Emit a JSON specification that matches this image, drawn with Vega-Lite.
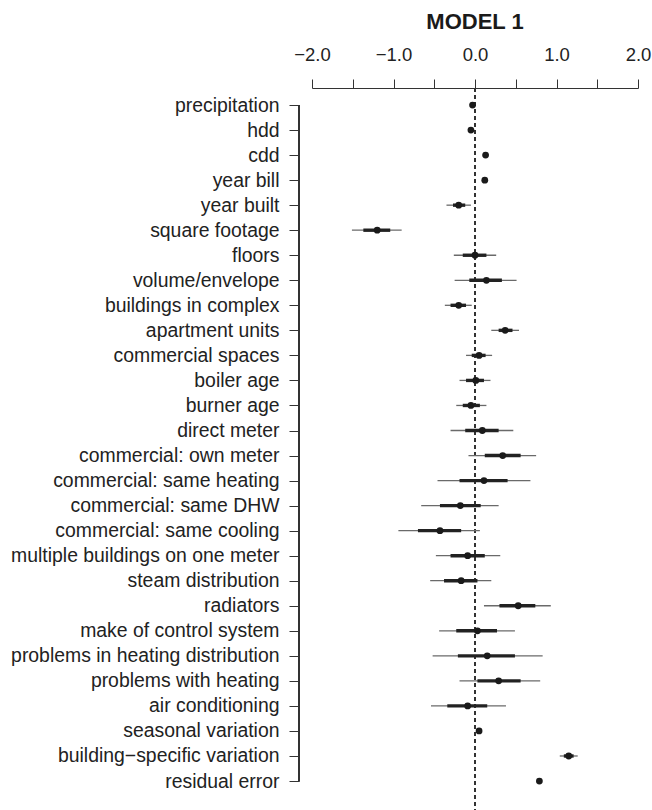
{
  "$schema": "https://vega.github.io/schema/vega-lite/v6.json",
  "autosize": "none",
  "padding": {"top": 88, "left": 312, "right": 14, "bottom": 0},
  "width": 326,
  "height": 722,
  "background": "white",
  "title": {"text": "MODEL 1", "font": "Liberation Sans", "fontSize": 22, "fontWeight": "bold", "color": "#1a1a1a", "anchor": "middle", "frame": "group", "offset": 11},
  "config": {"view": {"stroke": null}, "axis": {"grid": false}},
  "data": {"values": [
    {"term": "precipitation", "est": -0.03, "lo1": null, "hi1": null, "lo2": null, "hi2": null},
    {"term": "hdd", "est": -0.05, "lo1": null, "hi1": null, "lo2": null, "hi2": null},
    {"term": "cdd", "est": 0.13, "lo1": null, "hi1": null, "lo2": null, "hi2": null},
    {"term": "year bill", "est": 0.12, "lo1": null, "hi1": null, "lo2": null, "hi2": null},
    {"term": "year built", "est": -0.2, "lo1": -0.35, "hi1": -0.05, "lo2": -0.27, "hi2": -0.12},
    {"term": "square footage", "est": -1.2, "lo1": -1.51, "hi1": -0.9, "lo2": -1.37, "hi2": -1.04},
    {"term": "floors", "est": 0.0, "lo1": -0.26, "hi1": 0.26, "lo2": -0.15, "hi2": 0.14},
    {"term": "volume/envelope", "est": 0.14, "lo1": -0.25, "hi1": 0.51, "lo2": -0.07, "hi2": 0.33},
    {"term": "buildings in complex", "est": -0.2, "lo1": -0.37, "hi1": -0.04, "lo2": -0.3, "hi2": -0.11},
    {"term": "apartment units", "est": 0.37, "lo1": 0.2, "hi1": 0.54, "lo2": 0.29, "hi2": 0.46},
    {"term": "commercial spaces", "est": 0.05, "lo1": -0.11, "hi1": 0.21, "lo2": -0.04, "hi2": 0.13},
    {"term": "boiler age", "est": 0.01, "lo1": -0.19, "hi1": 0.19, "lo2": -0.11, "hi2": 0.11},
    {"term": "burner age", "est": -0.05, "lo1": -0.23, "hi1": 0.14, "lo2": -0.15, "hi2": 0.06},
    {"term": "direct meter", "est": 0.09, "lo1": -0.3, "hi1": 0.47, "lo2": -0.12, "hi2": 0.29},
    {"term": "commercial: own meter", "est": 0.34, "lo1": -0.08, "hi1": 0.75, "lo2": 0.12, "hi2": 0.56},
    {"term": "commercial: same heating", "est": 0.11, "lo1": -0.46, "hi1": 0.68, "lo2": -0.19, "hi2": 0.4},
    {"term": "commercial: same DHW", "est": -0.18, "lo1": -0.66, "hi1": 0.29, "lo2": -0.43, "hi2": 0.07},
    {"term": "commercial: same cooling", "est": -0.43, "lo1": -0.94, "hi1": 0.06, "lo2": -0.7, "hi2": -0.17},
    {"term": "multiple buildings on one meter", "est": -0.09, "lo1": -0.48, "hi1": 0.31, "lo2": -0.3, "hi2": 0.12},
    {"term": "steam distribution", "est": -0.17, "lo1": -0.55, "hi1": 0.2, "lo2": -0.38, "hi2": 0.03},
    {"term": "radiators", "est": 0.53, "lo1": 0.11, "hi1": 0.93, "lo2": 0.3, "hi2": 0.74},
    {"term": "make of control system", "est": 0.03, "lo1": -0.44, "hi1": 0.49, "lo2": -0.23, "hi2": 0.27},
    {"term": "problems in heating distribution", "est": 0.15, "lo1": -0.52, "hi1": 0.83, "lo2": -0.21, "hi2": 0.49},
    {"term": "problems with heating", "est": 0.29, "lo1": -0.19, "hi1": 0.8, "lo2": 0.03, "hi2": 0.56},
    {"term": "air conditioning", "est": -0.09, "lo1": -0.54, "hi1": 0.38, "lo2": -0.34, "hi2": 0.15},
    {"term": "seasonal variation", "est": 0.05, "lo1": null, "hi1": null, "lo2": null, "hi2": null},
    {"term": "building\u2212specific variation", "est": 1.15, "lo1": 1.04, "hi1": 1.26, "lo2": 1.09, "hi2": 1.21},
    {"term": "residual error", "est": 0.79, "lo1": null, "hi1": null, "lo2": null, "hi2": null}
  ]},
  "layer": [
    {
      "mark": {"type": "rule", "strokeDash": [4, 3], "color": "#333333", "strokeWidth": 1},
      "encoding": {"x": {"datum": 0, "type": "quantitative"}}
    },
    {
      "mark": {"type": "rule", "color": "#333333", "strokeWidth": 1, "clip": false},
      "encoding": {
        "x": {"datum": -2.156, "type": "quantitative"},
        "y": {"datum": "precipitation", "type": "nominal"},
        "y2": {"datum": "residual error"}
      }
    },
    {
      "mark": {"type": "rule", "color": "#6a6a6a", "strokeWidth": 1.3},
      "encoding": {
        "x": {"field": "lo1", "type": "quantitative"},
        "x2": {"field": "hi1"},
        "y": {"field": "term", "type": "nominal"}
      }
    },
    {
      "mark": {"type": "rule", "color": "#222222", "strokeWidth": 3.4},
      "encoding": {
        "x": {"field": "lo2", "type": "quantitative"},
        "x2": {"field": "hi2"},
        "y": {"field": "term", "type": "nominal"}
      }
    },
    {
      "mark": {"type": "point", "filled": true, "color": "#1a1a1a", "opacity": 1, "size": 46},
      "encoding": {
        "x": {"field": "est", "type": "quantitative"},
        "y": {"field": "term", "type": "nominal"}
      }
    }
  ],
  "encoding": {
    "x": {
      "type": "quantitative",
      "scale": {"domain": [-2, 2], "nice": false, "zero": false},
      "axis": {
        "orient": "top", "title": null, "values": [-2, -1.5, -1, -0.5, 0, 0.5, 1, 1.5, 2],
        "labelExpr": "datum.value % 1 === 0 ? format(datum.value, '.1f') : ''",
        "labelFont": "Liberation Sans", "labelFontSize": 18.5, "labelColor": "#222222",
        "labelPadding": 15, "tickSize": 9, "tickColor": "#333333", "domainColor": "#333333",
        "labelFlush": false, "labelOverlap": false
      }
    },
    "y": {
      "type": "nominal",
      "scale": {"type": "point", "padding": 0.9186, "align": 0.37, "domain": ["precipitation", "hdd", "cdd", "year bill", "year built", "square footage", "floors", "volume/envelope", "buildings in complex", "apartment units", "commercial spaces", "boiler age", "burner age", "direct meter", "commercial: own meter", "commercial: same heating", "commercial: same DHW", "commercial: same cooling", "multiple buildings on one meter", "steam distribution", "radiators", "make of control system", "problems in heating distribution", "problems with heating", "air conditioning", "seasonal variation", "building\u2212specific variation", "residual error"]},
      "axis": {
        "title": null, "domain": false, "offset": 13, "tickSize": 10, "tickColor": "#333333",
        "labelFont": "Liberation Sans", "labelFontSize": 19.4, "labelColor": "#222222",
        "labelPadding": 10, "labelLimit": 400
      }
    }
  }
}
